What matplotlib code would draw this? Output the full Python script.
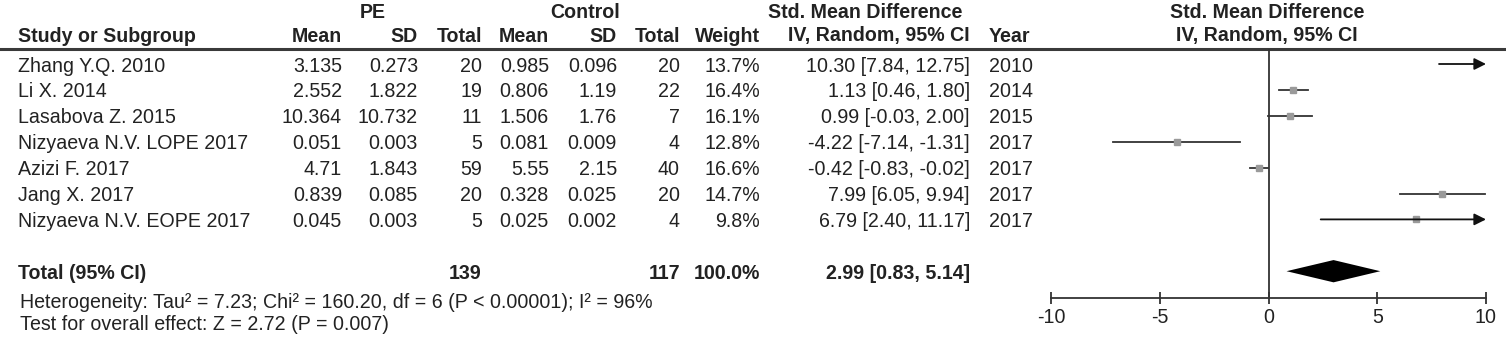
import numpy as np
import matplotlib.pyplot as plt

plt.rcParams['font.family'] = ['Liberation Sans', 'DejaVu Sans']

# ---------------- data ----------------
studies = ['Zhang Y.Q. 2010', 'Li X. 2014', 'Lasabova Z. 2015', 'Nizyaeva N.V. LOPE 2017',
           'Azizi F. 2017', 'Jang X. 2017', 'Nizyaeva N.V. EOPE 2017']
pe_mean = [3.135, 2.552, 10.364, 0.051, 4.71, 0.839, 0.045]
pe_sd = [0.273, 1.822, 10.732, 0.003, 1.843, 0.085, 0.003]
pe_n = [20, 19, 11, 5, 59, 20, 5]
ctl_mean = [0.985, 0.806, 1.506, 0.081, 5.55, 0.328, 0.025]
ctl_sd = [0.096, 1.19, 1.76, 0.009, 2.15, 0.025, 0.002]
ctl_n = [20, 22, 7, 4, 40, 20, 4]
weight = [13.7, 16.4, 16.1, 12.8, 16.6, 14.7, 9.8]
smd = [10.30, 1.13, 0.99, -4.22, -0.42, 7.99, 6.79]
ci_lo = [7.84, 0.46, -0.03, -7.14, -0.83, 6.05, 2.40]
ci_hi = [12.75, 1.80, 2.00, -1.31, -0.02, 9.94, 11.17]
years = [2010, 2014, 2015, 2017, 2017, 2017, 2017]

total_pe = 139
total_ctl = 117
pooled = 2.99
pooled_lo = 0.83
pooled_hi = 5.14
het_text = 'Heterogeneity: Tau\u00b2 = 7.23; Chi\u00b2 = 160.20, df = 6 (P < 0.00001); I\u00b2 = 96%'
test_text = 'Test for overall effect: Z = 2.72 (P = 0.007)'
ticks = [-10, -5, 0, 5, 10]

# ---------------- layout (pixels) ----------------
W, H = 1506, 341
row0, drow = 64, 25.9          # first study row, row spacing
line_y = 49                    # header rule
axis_y = 298                   # forest x-axis
FS = 14.1
TC = '#222222'
LC = '#333333'

fig = plt.figure(figsize=(W / 100, H / 100), dpi=100)
ax_t = fig.add_axes([0, 0, 1, 1])
ax_t.set_xlim(0, W)
ax_t.set_ylim(H, 0)
ax_t.axis('off')

def ry(i):
    return row0 + drow * i

# headers
hdr = dict(fontsize=FS, fontweight='bold', color=TC, va='center')
ax_t.text(373, 12, 'PE', ha='center', **hdr)
ax_t.text(585, 12, 'Control', ha='center', **hdr)
ax_t.text(865, 12, 'Std. Mean Difference', ha='center', **hdr)
ax_t.text(1267, 12, 'Std. Mean Difference', ha='center', **hdr)
ax_t.text(1267, 36, 'IV, Random, 95% CI', ha='center', **hdr)
ax_t.text(18, 36, 'Study or Subgroup', ha='left', **hdr)
cols_r = [342, 418, 482, 549, 617, 680, 760, 970]
for x, s in zip(cols_r, ['Mean', 'SD', 'Total', 'Mean', 'SD', 'Total', 'Weight', 'IV, Random, 95% CI']):
    ax_t.text(x, 36, s, ha='right', **hdr)
ax_t.text(989, 36, 'Year', ha='left', **hdr)
ax_t.plot([0, W], [line_y, line_y], color='#3a3a3a', lw=2.2)

# study rows
txt = dict(fontsize=FS, color=TC, va='center')
for i in range(len(studies)):
    y = ry(i) + 2
    ax_t.text(18, y, studies[i], ha='left', **txt)
    vals = [str(pe_mean[i]), str(pe_sd[i]), str(pe_n[i]), str(ctl_mean[i]), str(ctl_sd[i]),
            str(ctl_n[i]), f'{weight[i]:.1f}%', f'{smd[i]:.2f} [{ci_lo[i]:.2f}, {ci_hi[i]:.2f}]']
    for x, s in zip(cols_r, vals):
        ax_t.text(x, y, s, ha='right', **txt)
    ax_t.text(989, y, str(years[i]), ha='left', **txt)

# total row
yt = ry(8) + 2
ax_t.text(18, yt, 'Total (95% CI)', ha='left', **hdr)
ax_t.text(cols_r[2], yt, str(total_pe), ha='right', **hdr)
ax_t.text(cols_r[5], yt, str(total_ctl), ha='right', **hdr)
ax_t.text(cols_r[6], yt, '100.0%', ha='right', **hdr)
ax_t.text(cols_r[7], yt, f'{pooled:.2f} [{pooled_lo:.2f}, {pooled_hi:.2f}]', ha='right', **hdr)
ax_t.text(20, 302, het_text, ha='left', **txt)
ax_t.text(20, 325, test_text, ha='left', **txt)

# ---------------- forest plot ----------------
x0, x1 = 1051, 1486
ax = fig.add_axes([x0 / W, (H - axis_y) / H, (x1 - x0) / W, (axis_y - line_y) / H])
ax.set_xlim(-10, 10)
ax.set_ylim((axis_y - row0) / drow, (line_y - row0) / drow)
ax.patch.set_alpha(0)
for s in ['top', 'left', 'right']:
    ax.spines[s].set_visible(False)
ax.spines['bottom'].set_color(LC)
ax.spines['bottom'].set_linewidth(1.3)
ax.set_yticks([])
ax.set_xticks(ticks)
ax.set_xticklabels([str(t) for t in ticks])
ax.tick_params(axis='x', direction='inout', length=9, width=1.3, color=LC,
               labelsize=FS, labelcolor=TC, pad=3)
ax.axvline(0, color=LC, lw=1.3)

for i in range(len(studies)):
    lo, hi = ci_lo[i], ci_hi[i]
    if hi > 10:
        ax.annotate('', xy=(10, i), xytext=(lo, i), annotation_clip=False,
                    arrowprops=dict(arrowstyle='-|>,head_length=0.7,head_width=0.35',
                                    color='#111111', lw=1.3, shrinkA=0, shrinkB=0))
    else:
        ax.plot([lo, hi], [i, i], color=LC, lw=1.3)
    if -10 <= smd[i] <= 10:
        ax.plot(smd[i], i, marker='s', ms=3.2 + weight[i] * 0.1, color='#9a9a9a', mec='#9a9a9a')

# pooled diamond
ax.fill([pooled_lo, pooled, pooled_hi, pooled], [8, 8 - 0.43, 8, 8 + 0.43], color='black', lw=0)

fig.savefig('out.png', dpi=100)
